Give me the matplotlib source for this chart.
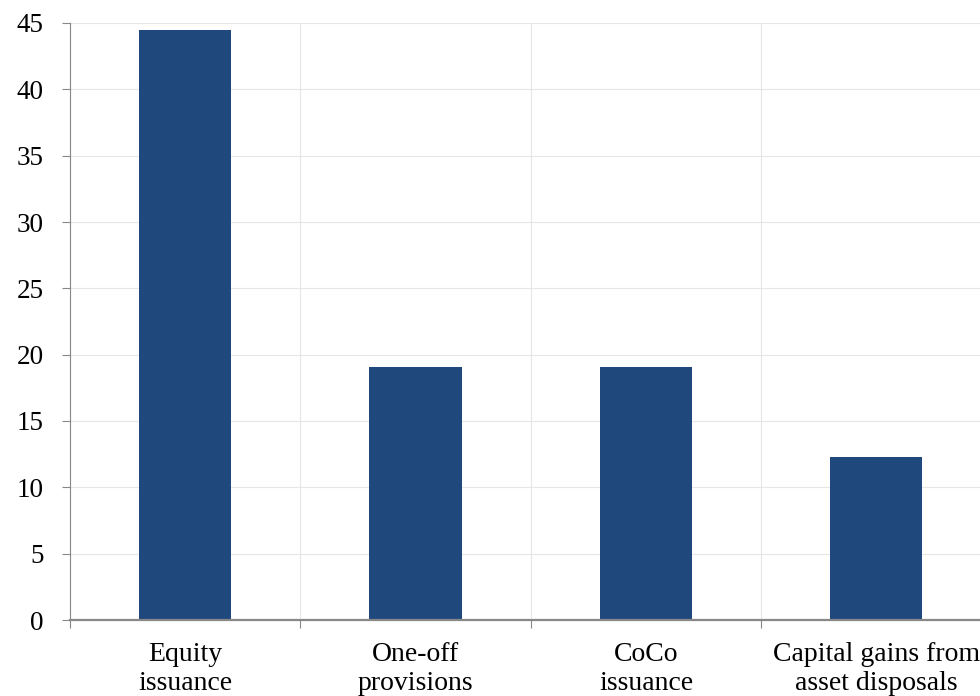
import numpy as np
import matplotlib.pyplot as plt

categories = ["Equity\nissuance", "One-off\nprovisions", "CoCo\nissuance", "Capital gains from\nasset disposals"]
values = [44.5, 19.1, 19.05, 12.3]
y_ticks = [0, 5, 10, 15, 20, 25, 30, 35, 40, 45]

plt.rcParams['font.family'] = ['Liberation Serif', 'DejaVu Serif']

fig = plt.figure(figsize=(9.8, 6.96), dpi=100)
ax = fig.add_axes([70 / 980, 1 - 620 / 696, 1 - 70 / 980, (620 - 23) / 696])

x = np.arange(len(categories))
ax.bar(x, values, width=0.4, color="#1f497d", zorder=3)

ax.set_xlim(-0.5, 3.45)
ax.set_ylim(0, 45)

ax.set_yticks(y_ticks)
ax.set_xticks(x)
ax.set_xticklabels(categories, fontsize=20, linespacing=1.2)
ax.set_xticks(np.arange(len(categories)) - 0.5, minor=True)

ax.tick_params(axis="y", labelsize=19.5, length=6, width=0.8, color="#888888", pad=13)
ax.tick_params(axis="x", which="major", length=0, pad=16)
ax.tick_params(axis="x", which="minor", length=6, width=0.8, color="#888888")

ax.grid(axis="y", color="#e6e6e6", linewidth=0.8, zorder=0)
ax.grid(axis="x", which="minor", color="#e6e6e6", linewidth=0.8, zorder=0)

for side in ("top", "right"):
    ax.spines[side].set_visible(False)
ax.spines["left"].set_color("#888888")
ax.spines["left"].set_linewidth(0.8)
ax.spines["bottom"].set_color("#888888")
ax.spines["bottom"].set_linewidth(1.6)
ax.spines["left"].set_zorder(4)
ax.spines["bottom"].set_zorder(4)

fig.savefig("out.png", dpi=100)
